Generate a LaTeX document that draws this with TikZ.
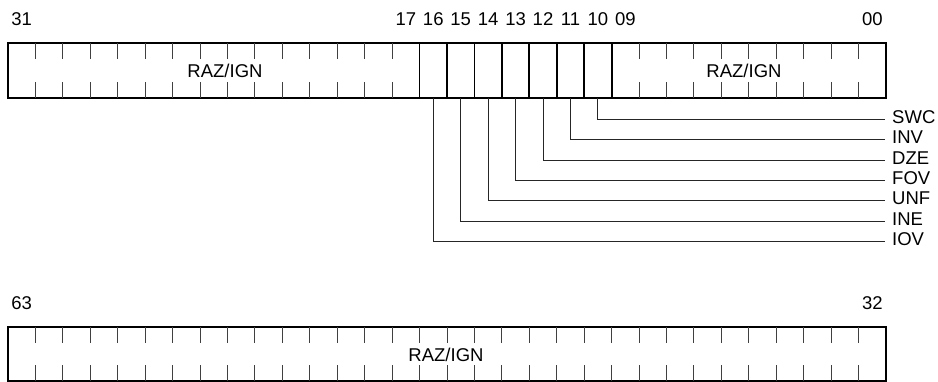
\documentclass[tikz,border=0pt]{standalone}
\usepackage{fontspec}
\setmainfont{Liberation Sans}
\usetikzlibrary{calc}

\tikzset{
  regframe/.style={line width=1.8pt},
  bittick/.style={line width=0.9pt,black!75},
  fieldline/.style={line width=1.8pt},
  leader/.style={line width=1pt,black!85},
  bitnum/.style={font=\fontsize{18.5}{20}\selectfont,inner sep=0pt},
  regtext/.style={font=\fontsize{18.5}{20}\selectfont,inner sep=0pt},
  fieldname/.style={font=\fontsize{18.5}{20}\selectfont,anchor=west,inner xsep=7pt,inner ysep=0pt,yshift=2.5pt}
}

\begin{document}
\begin{tikzpicture}[line cap=butt,line join=miter,x=1pt,y=-1pt]
  \useasboundingbox (0,0) rectangle (938,382);
  % bits 31..00
  \draw[regframe] (8,43) rectangle (886,98);
  \foreach \k in {1,...,14,23,24,...,31}
    \draw[bittick] ({8+\k*27.4375},43) -- ++(0,16) ({8+\k*27.4375},98) -- ++(0,-16);
  \foreach \k in {15,...,22}
    \draw[fieldline] ({8+\k*27.4375},43) -- ({8+\k*27.4375},98);
  \node[bitnum] (n31) at (21.7,19) {31};
  \foreach \b/\t in {17/17,16/16,15/15,14/14,13/13,12/12,11/11,10/10,9/09}
    \node[bitnum] (n\b) at ({8+(31-\b)*27.4375+13.72},19) {\t};
  \node[bitnum] (n00) at (872.3,19) {00};
  \node[regtext] (ignhi) at (225,71) {RAZ/IGN};
  \node[regtext] (ignlo) at (744,71) {RAZ/IGN};
  % status flags, bits 16..10
  \foreach \b/\name/\lbl in {10/swc/SWC,11/inv/INV,12/dze/DZE,13/fov/FOV,14/unf/UNF,15/ine/INE,16/iov/IOV}{
    \coordinate (b\b) at ({8+(31-\b)*27.4375+13.72},98);
    \coordinate (e\b) at (885,{119.7+(\b-10)*20.3});
    \node[fieldname] (\name) at (e\b) {\lbl};
    \draw[leader] (b\b) |- (e\b);
  }
  % bits 63..32
  \draw[regframe] (8,327) rectangle (886,381);
  \foreach \k in {1,...,31}
    \draw[bittick] ({8+\k*27.4375},327) -- ++(0,16) ({8+\k*27.4375},381) -- ++(0,-16);
  \node[bitnum] (n63) at (21.7,303.5) {63};
  \node[bitnum] (n32) at (872.3,303.5) {32};
  \node[regtext] (ignup) at (446,354.5) {RAZ/IGN};
\end{tikzpicture}
\end{document}
